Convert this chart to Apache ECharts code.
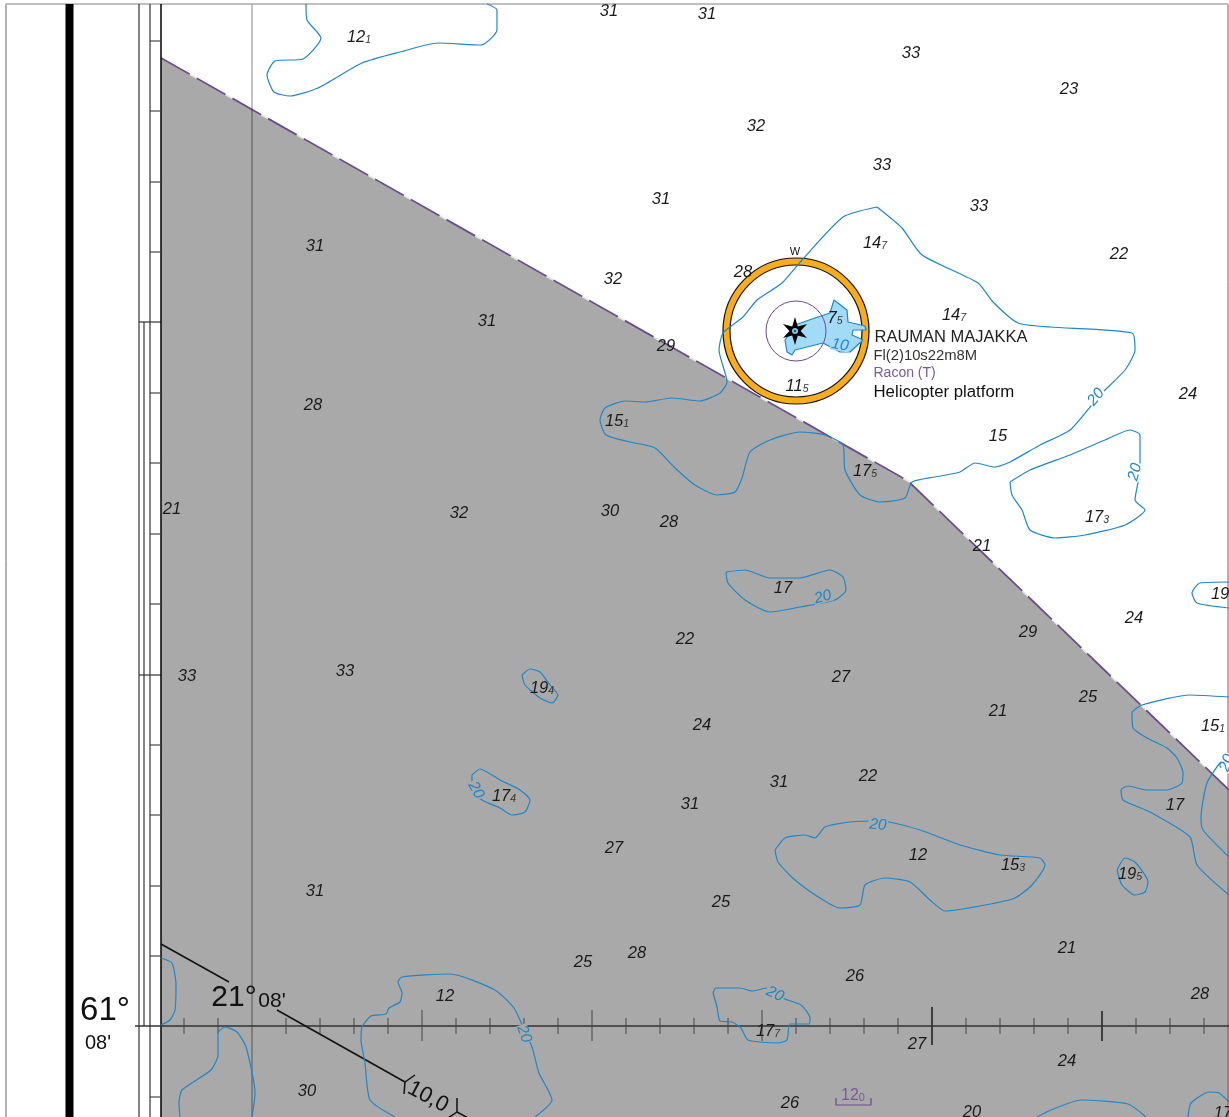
<!DOCTYPE html>
<html><head><meta charset="utf-8">
<style>html,body{margin:0;padding:0;background:#fff}#c{width:1229px;height:1117px}</style>
<script src="https://cdn.jsdelivr.net/npm/echarts@6/dist/echarts.min.js"></script>
</head><body><div id="c"></div>
<script>
const sheetWidth = 1229, sheetHeight = 1117;

const soundings = [
 ['12','1',358,36],['31','',608,10],['31','',706,13],['33','',910,52],['23','',1068,88],['32','',755,125],
 ['33','',881,164],['31','',660,198],['33','',978,205],['33','',1232,200],['14','7',874,242],['22','',1118,253],
 ['31','',314,245],['32','',612,278],['28','',742,271],['14','7',953,314],['7','5',834,317],['31','',486,320],
 ['29','',665,345],['11','5',796,385],['24','',1187,393],['28','',312,404],['15','1',616,420],['15','',997,435],
 ['17','5',864,470],['21','',171,508],['32','',458,512],['30','',609,510],['28','',668,521],['17','3',1096,516],
 ['21','',981,545],['17','',782,587],['19','8',1222,593],['24','',1133,617],['29','',1027,631],['22','',684,638],
 ['33','',186,675],['33','',344,670],['27','',840,676],['19','4',541,687],['25','',1087,696],['21','',997,710],
 ['15','1',1212,725],['24','',701,724],['31','',778,781],['22','',867,775],['17','4',503,795],['31','',689,803],
 ['17','',1174,804],['27','',613,847],['12','',917,854],['15','3',1012,864],['19','5',1129,873],['25','',720,901],
 ['31','',314,890],['21','',1066,947],['28','',636,952],['25','',582,961],['12','',444,995],['26','',854,975],
 ['28','',1199,993],['17','7',767,1030],['27','',916,1043],['24','',1066,1060],['30','',306,1090],['26','',789,1102],
 ['20','',971,1111],['17','',1222,1112]
];
// depth text, x, y, rotation, background
const contourLabels = [
 ['20',1096,397,50,'#fff'],['20',1135,472,75,'#fff'],['20',823,597,15,'#a9a9a9'],['20',476,790,-60,'#a9a9a9'],
 ['20',878,825,-5,'#a9a9a9'],['20',524,1034,-70,'#a9a9a9'],['20',775,994,-25,'#a9a9a9'],['20',1227,763,70,'#fff'],
 ['10',840,345,-10,'#a3daf7'],['20',651,1122,0,'#a9a9a9']
];

const limitLine = [[161,58],[908,481],[1229,790]];
const restrictedArea = [[161,58],[908,481],[1229,790],[1229,1117],[161,1117]];
const platformShoal = [[795,325],[812,319],[830,313],[834,300],[847,310],[848,322],[865,326],[866,330],[853,330],[852,335],[863,340],[850,352],[840,352],[823,343],[795,350],[792,355],[787,352],[785,340],[790,333],[795,325]];

const contours = [
 [[306,4],[307,20],[321,38],[303,59],[275,61],[267,75],[274,92],[290,96],[318,88],[362,63],[400,52],[438,43],[481,45],[497,30],[497,10],[487,4]],
 [[877,207],[843,217],[802,260],[782,283],[757,300],[743,317],[723,333],[719,350],[727,382],[720,393],[700,401],[672,398],[645,402],[625,401],[605,408],[600,420],[606,435],[630,442],[655,448],[675,468],[695,485],[717,495],[735,492],[742,478],[750,452],[770,440],[800,432],[825,435],[843,445],[845,470],[860,495],[880,502],[905,498],[912,482],[935,477],[960,472],[975,463],[995,467],[1010,462],[1040,445],[1070,430],[1100,395],[1125,370],[1135,350],[1132,333],[1050,327],[1018,323],[993,302],[978,283],[922,255],[902,228],[877,207]],
 [[1010,482],[1030,470],[1070,455],[1105,440],[1130,430],[1140,435],[1140,470],[1135,500],[1145,510],[1125,525],[1085,535],[1055,538],[1030,530],[1022,510],[1012,495],[1010,482]],
 [[726,572],[745,570],[770,578],[800,578],[830,570],[843,577],[846,590],[835,600],[800,607],[770,612],[745,600],[728,583],[726,572]],
 [[522,675],[530,669],[540,672],[550,685],[558,695],[552,703],[540,698],[525,685],[522,675]],
 [[472,775],[480,769],[500,780],[520,790],[530,800],[525,812],[512,815],[500,808],[482,800],[472,790],[472,775]],
 [[775,850],[785,838],[805,835],[815,838],[825,827],[850,822],[880,821],[920,830],[960,845],[1000,855],[1040,858],[1045,865],[1032,885],[1015,898],[985,905],[945,911],[930,900],[910,882],[885,878],[865,885],[860,905],[840,908],[820,898],[795,880],[778,862],[775,850]],
 [[1117,870],[1125,858],[1135,862],[1148,882],[1145,892],[1135,895],[1122,885],[1117,870]],
 [[1229,697],[1190,695],[1142,705],[1132,713],[1133,728],[1147,738],[1167,748],[1177,758],[1183,773],[1182,783],[1167,790],[1147,790],[1128,786],[1121,790],[1123,800],[1150,812],[1190,837],[1197,865],[1229,895]],
 [[1229,757],[1220,763],[1207,783],[1201,817],[1203,830],[1229,857]],
 [[1229,582],[1200,583],[1192,593],[1197,603],[1229,608]],
 [[161,958],[172,963],[176,985],[175,1010],[170,1020],[161,1025]],
 [[180,1117],[179,1103],[182,1090],[211,1070],[218,1055],[218,1033],[225,1027],[237,1032],[246,1047],[255,1093],[252,1117]],
 [[395,1117],[370,1100],[365,1063],[361,1040],[362,1027],[371,1016],[386,1014],[389,1008],[400,1002],[402,993],[398,982],[402,977],[450,974],[495,990],[514,1008],[523,1027],[532,1047],[539,1073],[552,1100],[535,1117]],
 [[713,993],[716,988],[740,988],[752,991],[767,988],[785,999],[801,1005],[810,1018],[809,1024],[790,1024],[787,1040],[778,1043],[748,1040],[741,1028],[732,1022],[720,1021],[717,1007],[713,993]],
 [[1037,1117],[1051,1110],[1081,1100],[1128,1104],[1146,1117]],
 [[1188,1117],[1191,1103],[1209,1092],[1219,1093],[1229,1102]]
];

const scaleTicksSide = [41,111,182,252,393,463,534,604,745,815,886,956,1097];
const parallelTicks = [184,218,286,320,354,388,456,490,524,558,626,660,694,728,796,830,864,898,966,1000,1034,1068,1136,1170,1204];
const parallelMajor = [422,592,762];
const parallelHeavy = [[932,1007,1045],[1102,1011,1041]];
const bearingLine = [[161,944,229,982],[277,1010,405,1082],[405,1082,415,1075],[405,1082,404,1094],[457,1112,457,1098],[457,1112,448,1118],[457,1112,470,1119]];
const frameRails = [[6,4,6,1117],[1228,4,1228,1117]];
const scaleRails = [[139,4,139,1117],[144,322,144,1026],[150,4,150,1117],[139,322,161,322],[139,675,161,675]];
const lightPosition = [796,331];
const platformRing = {outer:146, band:139, inner:132, sector:60};
const platformText = [
 ['RAUMAN MAJAKKA',875,337,'#222',16.5],['Fl(2)10s22m8M',874,356,'#333',14.8],
 ['Racon (T)',874,373,'#7a5a9c',14],['Helicopter platform',874,392,'#111',16.8]
];
const graticuleText = [
 ["61°",105,1011,33,0],["08'",98,1043,20,0],["21°",234,998,30,0],["08'",272,1001,21,0],['W',795,252,11,0],["10,0",428,1097,22,-28]
];
const wreckDepth = ['12','0',853,1096];
const wreckBracket = [[836,1098],[836,1105],[871,1105],[871,1098]];

const FONT = '"Liberation Sans", Arial, sans-serif';
const BLUE = '#1f86c8', PURPLE = '#6a4a90', GRAY = '#a9a9a9';

function segs(data, color, width, z){
  return {type:'custom',coordinateSystem:'cartesian2d',silent:true,z,data,encode:{x:[0,2],y:[1,3]},
    renderItem:(p,api)=>{
      const a=api.coord([api.value(0),api.value(1)]),b=api.coord([api.value(2),api.value(3)]);
      return {type:'line',shape:{x1:a[0],y1:a[1],x2:b[0],y2:b[1]},style:{stroke:color,lineWidth:width}};
    }};
}
function poly(points, fill, z){
  return {type:'custom',coordinateSystem:'cartesian2d',silent:true,z,data:points,encode:{x:0,y:1},
    renderItem:(p,api)=> p.dataIndex!==0?null:{type:'polygon',shape:{points:points.map(q=>api.coord(q))},style:{fill}}};
}
function line(points,color,width,z,extra){
  return Object.assign({type:'line',data:points,symbol:'none',silent:true,z,lineStyle:{color,width}},extra||{});
}
function ring(size,color,width,z){
  return {type:'scatter',data:[lightPosition],symbol:'circle',symbolSize:size,silent:true,z,
    itemStyle:{color:'rgba(0,0,0,0)',borderColor:color,borderWidth:width,opacity:1}};
}
function textSeries(items,z){
  return {type:'scatter',data:items,symbolSize:1,silent:true,z,itemStyle:{color:'rgba(0,0,0,0)',opacity:1}};
}
function sounding(s){
  const f = s[1] ? `{m|${s[0]}}{s|${s[1]}}` : `{m|${s[0]}}`;
  return {value:[s[2],s[3]],label:{show:true,position:'inside',offset:[1,1],formatter:f,
    rich:{m:{fontFamily:FONT,fontStyle:'italic',fontSize:16.5,color:'#1a1a1a'},
          s:{fontFamily:FONT,fontStyle:'italic',fontSize:10.5,color:'#333',padding:[7,0,0,0]}}}};
}

const series = [
  poly(restrictedArea,GRAY,1),
  line(limitLine,'#e6e6e6',1.5,2),
  line(limitLine,PURPLE,1.8,3,{lineStyle:{color:PURPLE,width:1.8,type:[33,8]}}),
  segs([[252,4,252,1117]],'rgba(0,0,0,0.32)',1.5,4),
  segs(frameRails,'#666',1,4),
  segs([[6,4,1228,4]],'#aaa',1.5,4),
  segs([[69.5,4,69.5,1117]],'#000',8,4),
  segs(scaleRails,'#333',1.2,4),
  segs([[161,4,161,1117]],'#000',1.5,4),
  segs(scaleTicksSide.map(y=>[150,y,161,y]),'#444',1.2,4),
  segs([[135,1026,1229,1026]],'#333',1.6,5),
  segs(parallelTicks.map(x=>[x,1018,x,1034]),'#444',1,5),
  segs(parallelMajor.map(x=>[x,1010,x,1041]),'#444',1,5),
  segs(parallelHeavy.map(t=>[t[0],t[1],t[0],t[2]]),'#333',1.8,5),
  segs(bearingLine,'#111',1.5,5),
  ring(platformRing.band,'#f9ad1d',7,6),
  ring(platformRing.outer,'#111',1.2,7),
  ring(platformRing.inner,'#111',1.2,7),
  poly(platformShoal,'#a3daf7',8),
  ring(platformRing.sector,PURPLE,1,9),
  ...contours.map(c=>line(c,BLUE,1.2,10,{smooth:0.2})),
  line(platformShoal,BLUE,1.2,10),
  {type:'scatter',data:[[795,331]],symbol:'path://M50 0L60 34L93 25L70 50L93 75L60 66L50 100L40 66L7 75L30 50L7 25L40 34Z',
   symbolSize:[24,28],silent:true,z:12,itemStyle:{color:'#000',opacity:1}},
  {type:'scatter',data:[[795,331]],symbolSize:6,silent:true,z:13,itemStyle:{color:'#7cc6ee',opacity:1}},
  {type:'scatter',data:[[795,331]],symbolSize:2,silent:true,z:14,itemStyle:{color:'#123',opacity:1}},
  line(wreckBracket,PURPLE,1.2,12),
  textSeries(soundings.map(sounding),15),
  textSeries(contourLabels.map(c=>({value:[c[1],c[2]],label:{show:true,position:'inside',formatter:c[0],rotate:c[3],
     fontFamily:FONT,fontStyle:'italic',fontSize:15.5,color:BLUE,backgroundColor:c[4],padding:[0,1,0,1],lineHeight:12}})),16),
  textSeries(platformText.map(t=>({value:[t[1],t[2]],label:{show:true,position:'right',distance:-1,formatter:t[0],
     fontFamily:FONT,fontSize:t[4],color:t[3]}})),16),
  textSeries(graticuleText.map(t=>({value:[t[1],t[2]],label:{show:true,position:'inside',formatter:t[0],rotate:t[4],
     fontFamily:FONT,fontSize:t[3],color:'#111'}})),16),
  textSeries([{value:[wreckDepth[2],wreckDepth[3]],label:{show:true,position:'inside',
     formatter:`{m|${wreckDepth[0]}}{s|${wreckDepth[1]}}`,
     rich:{m:{fontFamily:FONT,fontSize:16,color:'#7a5a9c'},s:{fontFamily:FONT,fontSize:11,color:'#7a5a9c',padding:[3,0,0,0]}}}}],16)
];

const chart = echarts.init(document.getElementById('c'),null,{renderer:'canvas',width:sheetWidth,height:sheetHeight});
chart.setOption({
  animation:false,backgroundColor:'#fff',
  grid:{left:0,right:0,top:0,bottom:0},
  tooltip:{show:false},
  xAxis:{type:'value',min:0,max:sheetWidth,show:false},
  yAxis:{type:'value',min:0,max:sheetHeight,inverse:true,show:false},
  series
});
</script></body></html>
